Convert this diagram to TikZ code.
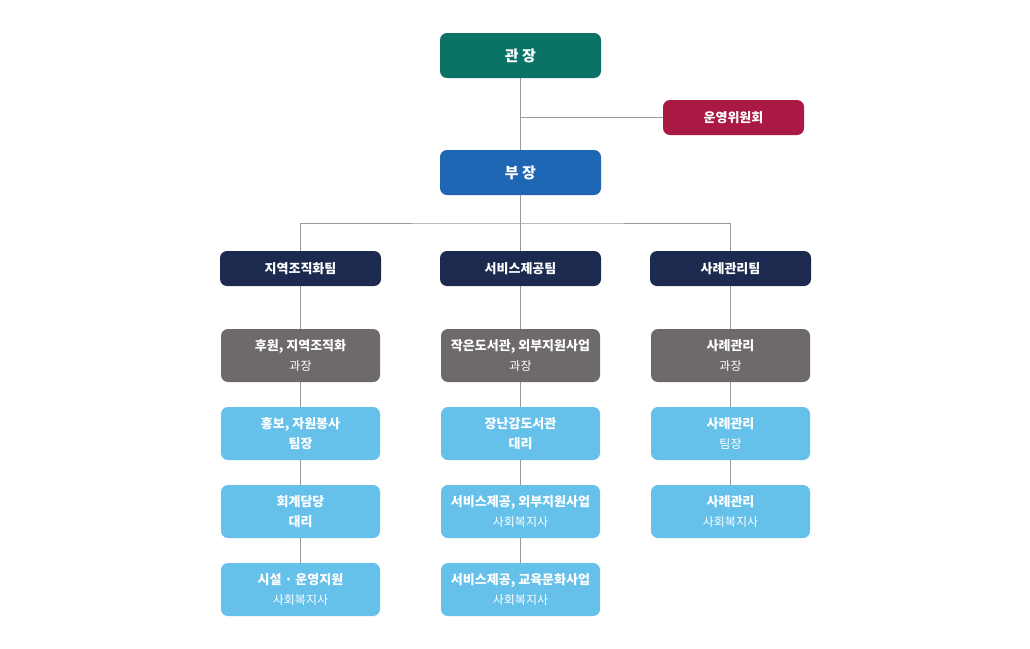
\documentclass[tikz,border=0pt]{standalone}
\usepackage{fontspec}
\setmainfont{Noto Sans CJK KR}
\definecolor{cTeal}{HTML}{0B7366}
\definecolor{cRed}{HTML}{AA1844}
\definecolor{cBlue}{HTML}{1F66B5}
\definecolor{cNavy}{HTML}{1B2A4E}
\definecolor{cGray}{HTML}{6E6A6A}
\definecolor{cLight}{HTML}{66C1EA}
\definecolor{cLine}{HTML}{999999}
\begin{document}
\begin{tikzpicture}[x=1pt,y=-1pt,
  box/.style={rounded corners=7pt, text=white, inner sep=0pt, align=center, font=\bfseries},
  topbox/.style={box, minimum width=161pt, minimum height=45pt, font=\fontsize{15}{18}\selectfont\bfseries},
  teambox/.style={box, fill=cNavy, minimum width=161pt, minimum height=35pt, font=\fontsize{13}{16}\selectfont\bfseries},
  subbox/.style={box, minimum width=159pt, minimum height=53pt, font=\fontsize{13}{20}\selectfont\bfseries},
  conn/.style={draw=cLine, line width=1pt}]
\useasboundingbox (0,0) rectangle (1030,648);
\fill[white] (0,0) rectangle (1030,648);
% top
\node[topbox, fill=cTeal] (head) at (520.5,55.5) {관 장};
\node[box, fill=cRed, minimum width=141pt, minimum height=35pt, font=\fontsize{13}{16}\selectfont\bfseries] (comm) at (733.5,117.5) {운영위원회};
\node[topbox, fill=cBlue] (vice) at (520.5,172.5) {부 장};
\coordinate (cj) at (520.5,117.5);
\coordinate (bj) at (520.5,223);
% teams
\node[teambox] (t1) at (300.5,268.5) {지역조직화팀};
\node[teambox] (t2) at (520.5,268.5) {서비스제공팀};
\node[teambox] (t3) at (730.5,268.5) {사례관리팀};
\newcommand{\two}[2]{#1\\{\fontsize{12}{20}\selectfont\mdseries #2}}
% column 1
\node[subbox, fill=cGray] (a1) at (300.5,355.5) {\two{후원, 지역조직화}{과장}};
\node[subbox, fill=cLight] (a2) at (300.5,433.5) {홍보, 자원봉사\\팀장};
\node[subbox, fill=cLight] (a3) at (300.5,511.5) {회계담당\\대리};
\node[subbox, fill=cLight] (a4) at (300.5,589.5) {\two{시설 · 운영지원}{사회복지사}};
% column 2
\node[subbox, fill=cGray] (b1) at (520.5,355.5) {\two{작은도서관, 외부지원사업}{과장}};
\node[subbox, fill=cLight] (b2) at (520.5,433.5) {장난감도서관\\대리};
\node[subbox, fill=cLight] (b3) at (520.5,511.5) {\two{서비스제공, 외부지원사업}{사회복지사}};
\node[subbox, fill=cLight] (b4) at (520.5,589.5) {\two{서비스제공, 교육문화사업}{사회복지사}};
% column 3
\node[subbox, fill=cGray] (c1) at (730.5,355.5) {\two{사례관리}{과장}};
\node[subbox, fill=cLight] (c2) at (730.5,433.5) {\two{사례관리}{팀장}};
\node[subbox, fill=cLight] (c3) at (730.5,511.5) {\two{사례관리}{사회복지사}};
% connectors
\draw[conn] (head.south) -- (vice.north);
\draw[conn] (cj) -- (comm.west);
\draw[conn] (vice.south) -- (bj);
\draw[conn] (t1.north) |- (bj) -| (t3.north);
\draw[conn] (bj) -- (t2.north);
\draw[conn] (t1.south) -- (a1.north);
\draw[conn] (a1.south) -- (a2.north);
\draw[conn] (a2.south) -- (a3.north);
\draw[conn] (a3.south) -- (a4.north);
\draw[conn] (t2.south) -- (b1.north);
\draw[conn] (b1.south) -- (b2.north);
\draw[conn] (b2.south) -- (b3.north);
\draw[conn] (b3.south) -- (b4.north);
\draw[conn] (t3.south) -- (c1.north);
\draw[conn] (c1.south) -- (c2.north);
\draw[conn] (c2.south) -- (c3.north);
\end{tikzpicture}
\end{document}
